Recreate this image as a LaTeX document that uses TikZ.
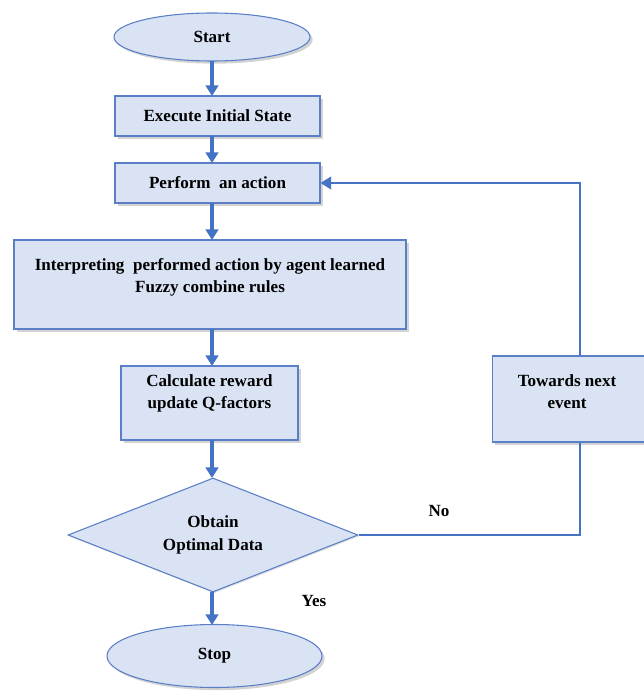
\documentclass[tikz,border=0pt]{standalone}
\usepackage{fontspec}
\setmainfont{Liberation Serif}
\usetikzlibrary{arrows.meta,shapes.geometric,shadows}
\definecolor{fillblue}{HTML}{DAE3F3}
\definecolor{edgeblue}{HTML}{5B7FC7}
\definecolor{arrowblue}{HTML}{4472C4}
\begin{document}
\begin{tikzpicture}[x=0.75pt,y=-0.75pt,
  txt/.style={font=\fontsize{12.8}{15.5}\selectfont\bfseries, align=center, text=black},
  boxst/.style={txt, draw=edgeblue, fill=fillblue, line width=0.8pt, inner sep=0pt,
     drop shadow={opacity=0.35, shadow xshift=2pt, shadow yshift=-2pt}},
  ovalst/.style={boxst, ellipse},
  diast/.style={txt, draw=edgeblue, fill=fillblue, line width=0.8pt, diamond, inner sep=0pt,
     drop shadow={opacity=0.25, shadow xshift=1pt, shadow yshift=-1pt}},
  flow/.style={draw=arrowblue, line width=2.6pt, -{Triangle[length=8pt,width=9.5pt]}},
  line/.style={draw=arrowblue, line width=1.7pt},
  lbl/.style={txt}]
\useasboundingbox (0,0) rectangle (643,695);
\node[ovalst, minimum width=196*0.75pt, minimum height=48*0.75pt] (start) at (212,37) {Start};
\node[boxst, minimum width=205*0.75pt, minimum height=40*0.75pt] (exec) at (217.5,116) {Execute Initial State};
\node[boxst, minimum width=205*0.75pt, minimum height=40*0.75pt] (perf) at (217.5,183) {Perform\ \ an action};
\node[boxst, minimum width=392*0.75pt, minimum height=89*0.75pt] (interp) at (210,284.5) {};
\node[txt] (interptxt) at (210,277) {Interpreting\ \ performed action by agent learned\\[1pt] Fuzzy combine rules};
\node[boxst, minimum width=177*0.75pt, minimum height=74*0.75pt] (calc) at (209.5,403) {};
\node[txt] (calctxt) at (209.5,393.5) {Calculate reward\\[1pt] update Q-factors};
\node[diast, minimum width=290*0.75pt, minimum height=114*0.75pt, shape aspect=2.54] (dec) at (213,535) {Obtain\\[2pt] Optimal Data};
\node[ovalst, minimum width=215*0.75pt, minimum height=63*0.75pt] (stop) at (214.5,656) {Stop};
\node[boxst, minimum width=155*0.75pt, minimum height=86*0.75pt, anchor=west] (next) at (492,399) {};
\node[txt] (nexttxt) at (567,392) {Towards next\\[1pt] event};
\coordinate (c1) at (580,535);
\coordinate (c2) at (580,183);
\draw[flow] (212,61) -- (212,96);
\draw[flow] (212,136) -- (212,163);
\draw[flow] (212,203) -- (212,240);
\draw[flow] (212,329) -- (212,366);
\draw[flow] (212,440) -- (212,478);
\draw[flow] (212,592) -- (212,625);
\draw[line] (dec.east) -- (c1) -- (c1 |- next.south);
\draw[line, -{Triangle[length=8pt,width=9.5pt]}] (c1 |- next.north) -- (c2) -- (perf.east);
\node[lbl] (no) at (439,511) {No};
\node[lbl] (yes) at (314,601) {Yes};
\end{tikzpicture}
\end{document}
